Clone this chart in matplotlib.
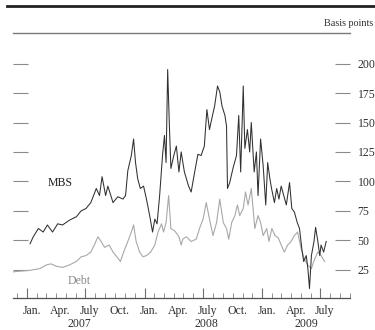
import matplotlib
matplotlib.use("Agg")
import matplotlib.pyplot as plt
import matplotlib.dates as mdates
from matplotlib.lines import Line2D
import numpy as np

plt.rcParams['font.family'] = ['Liberation Serif', 'DejaVu Serif']

# Spread on mortgage-backed securities, basis points
mbs_dates = [
    "2007-01-10", "2007-01-20", "2007-02-05", "2007-02-20", "2007-03-05", "2007-03-21",
    "2007-04-06", "2007-04-21", "2007-05-12", "2007-06-03", "2007-06-18", "2007-07-03",
    "2007-07-18", "2007-08-04", "2007-08-14", "2007-08-22", "2007-09-02", "2007-09-09",
    "2007-09-25", "2007-10-10", "2007-10-26", "2007-11-03", "2007-11-10", "2007-11-21",
    "2007-11-28", "2007-12-04", "2007-12-11", "2007-12-19", "2007-12-29", "2008-01-07",
    "2008-01-17", "2008-01-26", "2008-02-02", "2008-02-09", "2008-02-17", "2008-02-26",
    "2008-03-03", "2008-03-08", "2008-03-13", "2008-03-18", "2008-03-23", "2008-04-01",
    "2008-04-09", "2008-04-17", "2008-04-24", "2008-05-04", "2008-05-17", "2008-05-25",
    "2008-06-05", "2008-06-15", "2008-06-25", "2008-07-05", "2008-07-13", "2008-07-21",
    "2008-07-28", "2008-08-06", "2008-08-15", "2008-08-22", "2008-08-29", "2008-09-07",
    "2008-09-12", "2008-09-15", "2008-09-22", "2008-10-02", "2008-10-13", "2008-10-20",
    "2008-10-26", "2008-11-03", "2008-11-08", "2008-11-16", "2008-11-23", "2008-11-28",
    "2008-12-07", "2008-12-14", "2008-12-19", "2008-12-27", "2009-01-04", "2009-01-12",
    "2009-01-18", "2009-01-25", "2009-01-30", "2009-02-08", "2009-02-15", "2009-02-22",
    "2009-03-01", "2009-03-09", "2009-03-17", "2009-03-27", "2009-04-03", "2009-04-11",
    "2009-04-20", "2009-04-27", "2009-05-04", "2009-05-10", "2009-05-18", "2009-05-23",
    "2009-05-28", "2009-06-03", "2009-06-11", "2009-06-16", "2009-06-23", "2009-06-29",
    "2009-07-03", "2009-07-11", "2009-07-19",
]
mbs_values = [
    47, 53, 60, 57, 63, 57,
    64, 63, 67, 70, 75, 77,
    82, 94, 88, 104, 88, 96,
    82, 87, 85, 88, 109, 122,
    136, 116, 102, 94, 96, 85,
    71, 57, 68, 64, 88, 122,
    139, 116, 195, 150, 111, 122,
    130, 108, 125, 108, 96, 91,
    108, 123, 122, 130, 161, 144,
    153, 164, 181, 176, 164, 156,
    147, 94, 99, 111, 122, 156,
    108, 181, 128, 144, 125, 150,
    108, 125, 88, 136, 113, 80,
    116, 102, 94, 82, 94, 85,
    96, 88, 80, 99, 77, 74,
    65, 60, 43, 32, 37, 26,
    9, 37, 49, 61, 49, 37,
    46, 40, 49,
]

# Spread on agency debt, basis points
debt_dates = [
    "2006-11-09", "2007-01-10", "2007-02-10", "2007-03-01", "2007-03-16", "2007-04-01",
    "2007-04-21", "2007-05-12", "2007-06-03", "2007-06-18", "2007-07-03", "2007-07-18",
    "2007-07-29", "2007-08-09", "2007-08-19", "2007-08-30", "2007-09-13", "2007-09-25",
    "2007-10-07", "2007-10-18", "2007-10-28", "2007-11-10", "2007-11-21", "2007-11-28",
    "2007-12-06", "2007-12-17", "2007-12-27", "2008-01-07", "2008-01-20", "2008-02-02",
    "2008-02-12", "2008-02-23", "2008-02-29", "2008-03-08", "2008-03-16", "2008-03-23",
    "2008-04-04", "2008-04-17", "2008-04-24", "2008-04-29", "2008-05-10", "2008-05-25",
    "2008-06-10", "2008-06-20", "2008-07-01", "2008-07-11", "2008-07-21", "2008-08-01",
    "2008-08-12", "2008-08-22", "2008-09-02", "2008-09-12", "2008-09-19", "2008-09-28",
    "2008-10-08", "2008-10-16", "2008-10-23", "2008-11-03", "2008-11-10", "2008-11-18",
    "2008-11-28", "2008-12-09", "2008-12-19", "2008-12-27", "2009-01-04", "2009-01-15",
    "2009-01-22", "2009-01-31", "2009-02-10", "2009-02-20", "2009-03-01", "2009-03-11",
    "2009-03-21", "2009-04-01", "2009-04-11", "2009-04-21", "2009-05-02", "2009-05-12",
    "2009-05-23", "2009-06-03", "2009-06-13", "2009-06-23", "2009-07-03", "2009-07-14",
]
debt_values = [
    23, 24.5, 26, 29, 30, 28,
    27, 29, 32, 36, 37, 40,
    46, 53, 49, 44, 46, 40,
    36, 32, 40, 49, 57, 63,
    49, 40, 36, 37, 40, 46,
    57, 64, 57, 65, 88, 60,
    58, 53, 46, 51, 53, 49,
    51, 60, 68, 82, 68, 54,
    65, 85, 65, 60, 51, 65,
    71, 80, 71, 77, 91, 80,
    94, 60, 71, 65, 54, 60,
    49, 60, 54, 52, 46, 40,
    46, 49, 54, 57, 43, 34,
    29, 26, 34, 40, 37, 32,
]

month_labels = ["Jan.", "Apr.", "July", "Oct.", "Jan.", "Apr.", "July", "Oct.", "Jan.", "Apr.", "July"]
month_label_dates = ["2007-01-15", "2007-04-15", "2007-07-15", "2007-10-15",
                     "2008-01-15", "2008-04-15", "2008-07-15", "2008-10-15",
                     "2009-01-15", "2009-04-15", "2009-07-15"]
year_labels = ["2007", "2008", "2009"]
year_label_dates = ["2007-06-13", "2008-07-12", "2009-05-18"]
y_ticks = [25, 50, 75, 100, 125, 150, 175, 200]


def to_num(ds):
    return mdates.date2num(np.array(ds, dtype="datetime64[D]"))


fig = plt.figure(figsize=(3.75, 3.3), dpi=100)
ax = fig.add_axes([13 / 375, 1 - 298 / 330, 337 / 375, 265 / 330])

ax.plot(to_num(debt_dates), debt_values, color="#a8a8a8", lw=0.8)
ax.plot(to_num(mbs_dates), mbs_values, color="#303030", lw=0.75)

ax.set_xlim(to_num(["2006-11-18"])[0], to_num(["2009-10-01"])[0])
ax.set_ylim(1, 226)

# frame: only the top rule and the baseline
for side in ("left", "right"):
    ax.spines[side].set_visible(False)
ax.spines["top"].set_color("#7a7a7a")
ax.spines["top"].set_linewidth(1.0)
ax.spines["bottom"].set_color("#505050")
ax.spines["bottom"].set_linewidth(0.9)

# y axis: dashes on both sides, labels on the right
ax.set_yticks(y_ticks)
ax.set_yticklabels([str(v) for v in y_ticks])
ax.tick_params(axis="y", which="both", left=True, right=True, labelleft=False,
               labelright=True, direction="in", length=11, width=0.8,
               color="#8a8a8a", pad=5.5, labelsize=8.5, labelcolor="#303030")

# x axis: monthly ticks, half-year ticks taller
ax.xaxis.set_major_locator(mdates.MonthLocator(bymonth=[1, 7]))
ax.xaxis.set_minor_locator(mdates.MonthLocator())
ax.xaxis.set_major_formatter(plt.NullFormatter())
ax.tick_params(axis="x", which="major", direction="in", length=7, width=0.8,
               color="#707070", top=False)
ax.tick_params(axis="x", which="minor", direction="in", length=3.5, width=0.7,
               color="#909090", top=False)

xtr = ax.get_xaxis_transform()
for lab, d in zip(month_labels, to_num(month_label_dates)):
    ax.text(d, -0.05, lab, transform=xtr, ha="center", va="center",
            fontsize=8.5, color="#303030")
for lab, d in zip(year_labels, to_num(year_label_dates)):
    ax.text(d, -0.097, lab, transform=xtr, ha="center", va="center",
            fontsize=8.5, color="#303030")

ax.text(to_num(["2007-04-15"])[0], 99, "MBS", ha="center", va="center",
        fontsize=8.5, color="#202020")
ax.text(to_num(["2007-06-13"])[0], 15.5, "Debt", ha="center", va="center",
        fontsize=8.5, color="#8a8a8a")

# header
fig.add_artist(Line2D([7 / 375, 1.0], [1 - 5.5 / 330, 1 - 5.5 / 330],
                      color="#222222", lw=2.0))
fig.text(373 / 375, 1 - 23 / 330, "Basis points", ha="right", va="center",
         fontsize=7.3, color="#303030")

fig.savefig("out.png", dpi=100)
